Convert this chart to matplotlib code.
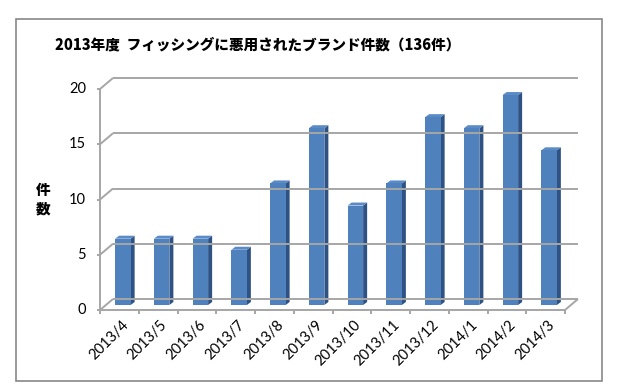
import matplotlib
matplotlib.use('Agg')
import matplotlib.pyplot as plt
from matplotlib.patches import Polygon, Rectangle
from matplotlib.transforms import ScaledTranslation

plt.rcParams['font.family'] = ['Lato', 'Noto Sans CJK JP', 'DejaVu Sans']

# data
months = ['2013/4', '2013/5', '2013/6', '2013/7', '2013/8', '2013/9',
          '2013/10', '2013/11', '2013/12', '2014/1', '2014/2', '2014/3']
counts = [6, 6, 6, 5, 11, 16, 9, 11, 17, 16, 19, 14]
y_ticks = [0, 5, 10, 15, 20]
title = '2013年度  フィッシングに悪用されたブランド件数（136件）'
y_label = '件\n数'

FRONT = '#4F81BD'
SIDE = '#2E5283'
TOP = '#5A8BC6'
GRID = '#A6A6A6'

W, H = 620, 390
fig = plt.figure(figsize=(W / 100, H / 100), dpi=100)

# outer chart frame
fig.patches.append(Rectangle((16 / W, 1 - 381 / H), 586 / W, 362 / H,
                             transform=fig.transFigure, fill=False,
                             edgecolor='#878787', linewidth=1.2))

ax_l, ax_b, ax_w, ax_h = 100 / W, 1 - 310 / H, 465 / W, 221 / H
ax = fig.add_axes([ax_l, ax_b, ax_w, ax_h])
ax.set_xlim(0, len(months))
ax.set_ylim(0, 20)
ax.axis('off')

n = len(months)
px_x = ax_w * W / n   # pixels per category
px_y = ax_h * H / 20  # pixels per unit


def ux(p):
    return p / px_x


def uy(p):
    return p / px_y


# depth of back wall
bdx, bdy = ux(13), uy(11)
line_kw = dict(color=GRID, linewidth=1.4, clip_on=False, solid_capstyle='butt')

for v in y_ticks:
    ax.plot([bdx, n + bdx], [v + bdy, v + bdy], **line_kw)
    ax.plot([0, bdx], [v, v + bdy], **line_kw)
    ax.plot([ux(-3), 0], [v, v], **line_kw)
    ax.text(ux(-14), v, str(v), ha='right', va='center', fontsize=10.5, color='black')

ax.plot([0, 0], [0, 20], **line_kw)
ax.plot([0, n], [0, 0], **line_kw)
ax.plot([n, n + bdx], [0, bdy], **line_kw)
for i in range(n + 1):
    ax.plot([i, i], [0, uy(-4)], **line_kw)

# 3d looking bars
bw = ux(15.5)
off_x, off_y = ux(3.5), uy(5)
sdx, sdy = ux(4), uy(3)
for i, v in enumerate(counts):
    x0 = i + 0.5 - bw / 2 + off_x
    x1 = x0 + bw
    y0, y1 = off_y, v + off_y
    ax.add_patch(Polygon([(x1, y0), (x1, y1), (x1 + sdx, y1 + sdy), (x1 + sdx, y0 + sdy)],
                         closed=True, facecolor=SIDE, edgecolor='none', clip_on=False))
    ax.add_patch(Polygon([(x0, y1), (x1, y1), (x1 + sdx, y1 + sdy), (x0 + sdx, y1 + sdy)],
                         closed=True, facecolor=TOP, edgecolor='none', clip_on=False))
    ax.add_patch(Rectangle((x0, y0), bw, v, facecolor=FRONT, edgecolor='none', clip_on=False))

# rotated month labels
lbl_off = ScaledTranslation(2 / 100, -8 / 100, fig.dpi_scale_trans)
for i, m in enumerate(months):
    ax.text(i + 0.5, 0, m, rotation=45, rotation_mode='anchor', ha='right', va='top',
            fontsize=10.5, transform=ax.transData + lbl_off)

fig.text(258 / W, 1 - 45 / H, title, ha='center', va='center', fontsize=10.5,
         fontweight='heavy', family=['Noto Sans CJK JP', 'DejaVu Sans'])
fig.text(43 / W, 1 - 200 / H, y_label, ha='center', va='center', fontsize=10.5,
         fontweight='heavy', linespacing=1.3, family=['Noto Sans CJK JP', 'DejaVu Sans'])

fig.savefig('out.png', dpi=100)
